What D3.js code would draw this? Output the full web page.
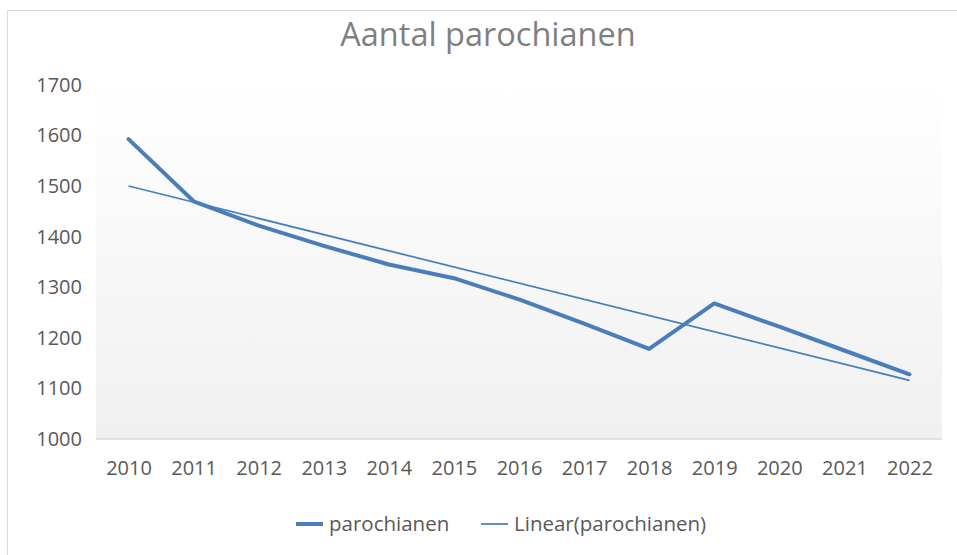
<!DOCTYPE html>
<html>
<head>
<meta charset="utf-8">
<script src="https://cdn.jsdelivr.net/npm/d3@7"></script>
<style>
  body { margin: 0; background: #fff; }
  text { font-family: "Open Sans", "Noto Sans", sans-serif; }
</style>
</head>
<body>
<script>
// data
const years = ["2010", "2011", "2012", "2013", "2014", "2015", "2016", "2017", "2018", "2019", "2020", "2021", "2022"];
const parochianen = [1593, 1470, 1422, 1382, 1345, 1318, 1276, 1228, 1178, 1268, 1222, 1175, 1128];
const yTicks = [1000, 1100, 1200, 1300, 1400, 1500, 1600, 1700];
const chartTitle = "Aantal parochianen";
const seriesName = "parochianen";

const width = 957,
      height = 555,
      plot = { left: 96, right: 942, top: 85, bottom: 439 },
      lineColor = "#4a7ebb",
      textColor = "#595959";

const svg = d3.select("body").append("svg")
  .attr("width", width)
  .attr("height", height);

// chart frame (cut off at right and bottom)
svg.append("path")
  .attr("d", `M7.5,${height + 2} V10.5 H${width + 2}`)
  .attr("fill", "none")
  .attr("stroke", "#d9d9d9")
  .attr("stroke-width", 1);

// plot area gradient
const grad = svg.append("defs").append("linearGradient")
  .attr("id", "plotGrad")
  .attr("x1", 0).attr("y1", 0).attr("x2", 0).attr("y2", 1);
grad.append("stop").attr("offset", "0%").attr("stop-color", "#ffffff");
grad.append("stop").attr("offset", "100%").attr("stop-color", "#f0f0f0");

const x = d3.scalePoint()
  .domain(years)
  .range([plot.left, plot.right])
  .padding(0.5);

const y = d3.scaleLinear()
  .domain([1000, 1700])
  .range([plot.bottom, plot.top]);

svg.append("rect")
  .attr("x", plot.left)
  .attr("y", plot.top)
  .attr("width", plot.right - plot.left)
  .attr("height", plot.bottom - plot.top)
  .attr("fill", "url(#plotGrad)");

// title
svg.append("text")
  .attr("x", 488)
  .attr("y", 46)
  .attr("text-anchor", "middle")
  .attr("font-size", 32.5)
  .attr("fill", "#7f7f7f")
  .text(chartTitle);

// y axis
const yAxis = svg.append("g")
  .attr("transform", `translate(${plot.left - 14},0)`)
  .call(d3.axisLeft(y).tickValues(yTicks).tickFormat(d3.format("d")).tickSize(0).tickPadding(0));
yAxis.select(".domain").remove();
yAxis.selectAll("text")
  .attr("font-size", 20)
  .attr("font-family", "'Open Sans', sans-serif")
  .attr("fill", textColor);

// x axis
const xAxis = svg.append("g")
  .attr("transform", `translate(0,${plot.bottom})`)
  .call(d3.axisBottom(x).tickSize(0).tickPadding(22));
xAxis.select(".domain")
  .attr("stroke", "#d9d9d9")
  .attr("stroke-width", 1.5)
  .attr("d", `M${plot.left},0H${plot.right}`);
xAxis.selectAll("text")
  .attr("font-size", 20)
  .attr("font-family", "'Open Sans', sans-serif")
  .attr("fill", textColor);

// linear trendline (least squares, as the spreadsheet does)
const idx = parochianen.map((d, i) => i);
const mx = d3.mean(idx), my = d3.mean(parochianen);
const slope = d3.sum(idx, i => (i - mx) * (parochianen[i] - my)) / d3.sum(idx, i => (i - mx) ** 2);
const intercept = my - slope * mx;
const trend = years.map((yr, i) => ({ year: yr, value: intercept + slope * i }));

const line = d3.line()
  .x(d => x(d.year))
  .y(d => y(d.value));

const series = years.map((yr, i) => ({ year: yr, value: parochianen[i] }));

svg.append("path")
  .datum(series)
  .attr("d", line)
  .attr("fill", "none")
  .attr("stroke", lineColor)
  .attr("stroke-width", 4)
  .attr("stroke-linejoin", "round")
  .attr("stroke-linecap", "round");

svg.append("path")
  .datum([trend[0], trend[trend.length - 1]])
  .attr("d", line)
  .attr("fill", "none")
  .attr("stroke", lineColor)
  .attr("stroke-width", 1.75);

// legend
const legendItems = [
  { label: seriesName, x0: 296, w: 4 },
  { label: "Linear(" + seriesName + ")", x0: 481, w: 1.75 }
];
const legend = svg.append("g").attr("transform", "translate(0,524)");
legendItems.forEach(d => {
  legend.append("line")
    .attr("x1", d.x0).attr("x2", d.x0 + 27)
    .attr("y1", 0).attr("y2", 0)
    .attr("stroke", lineColor)
    .attr("stroke-width", d.w);
  legend.append("text")
    .attr("x", d.x0 + 33)
    .attr("y", 7)
    .attr("font-size", 20.5)
    .attr("fill", textColor)
    .text(d.label);
});
</script>
</body>
</html>
